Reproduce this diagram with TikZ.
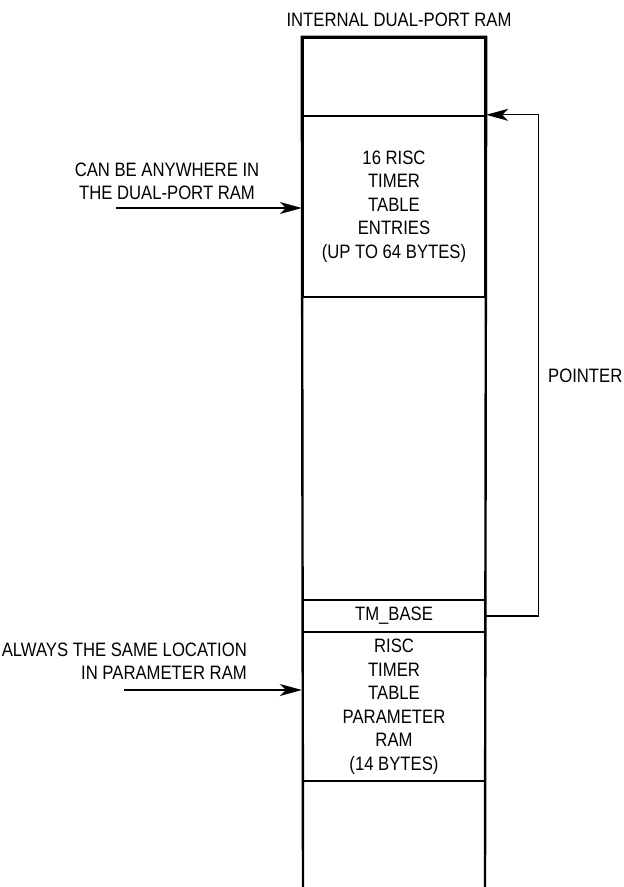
\documentclass[tikz,border=0pt]{standalone}
\usepackage{fontspec}
\setmainfont{Liberation Sans}[FakeStretch=0.86]
\usetikzlibrary{positioning}
\usetikzlibrary{arrows.meta}

\tikzset{
    ramfont/.style={font=\fontsize{19.4pt}{23.5pt}\selectfont},
    ramblock/.style={draw, line width=2.4pt, minimum width=182pt, inner sep=0pt, align=center, ramfont},
    notetext/.style={inner sep=0pt, ramfont},
    notearrow/.style={line width=1.4pt, -{Stealth[length=22pt, width=12pt, inset=6pt]}},
}

\begin{document}
\begin{tikzpicture}[x=1pt, y=-1pt]
    \useasboundingbox (0,0) rectangle (624,887);

    % Title
    \node[notetext] (title) at (399,20) {INTERNAL DUAL-PORT RAM};

    % RAM column
    \node[ramblock, minimum height=78pt] (toparea) at (394,77) {};
    \node[ramblock, minimum height=181pt] (entries) at (394,206.5)
        {16 RISC\\TIMER\\TABLE\\ENTRIES\\(UP TO 64 BYTES)};
    \node[ramblock, minimum height=32pt] (tmbase) at (394,616) {TM\_BASE};
    \node[ramblock, minimum height=149pt] (param) at (394,706.5)
        {RISC\\TIMER\\TABLE\\PARAMETER\\RAM\\(14 BYTES)};
    \coordinate (endleft) at (303,887);
    \coordinate (endright) at (485,887);
    \draw[line width=2.4pt] (endleft) -- (toparea.north west)
        -- (toparea.north east) -- (endright);

    % Note on the timer table
    \node[notetext, align=center] (anywhere) at (167,181.5)
        {CAN BE ANYWHERE IN\\THE DUAL-PORT RAM};
    \coordinate (anywherefrom) at (116,208);
    \draw[notearrow] (anywherefrom) -- (anywherefrom -| entries.west);

    % Note on the parameter RAM
    \node[notetext, align=right, anchor=east] (always) at (247,661)
        {ALWAYS THE SAME LOCATION\\IN PARAMETER RAM};
    \coordinate (alwaysfrom) at (124,690);
    \draw[notearrow] (alwaysfrom) -- (alwaysfrom -| param.west);

    % Pointer
    \draw[line width=1.3pt, -{Stealth[length=22pt, width=12pt, inset=6pt]}]
        (tmbase.east) -- ++(52,0) |- (entries.north east);
    \node[notetext, anchor=west] (pointer) at (548,376) {POINTER};
\end{tikzpicture}
\end{document}
